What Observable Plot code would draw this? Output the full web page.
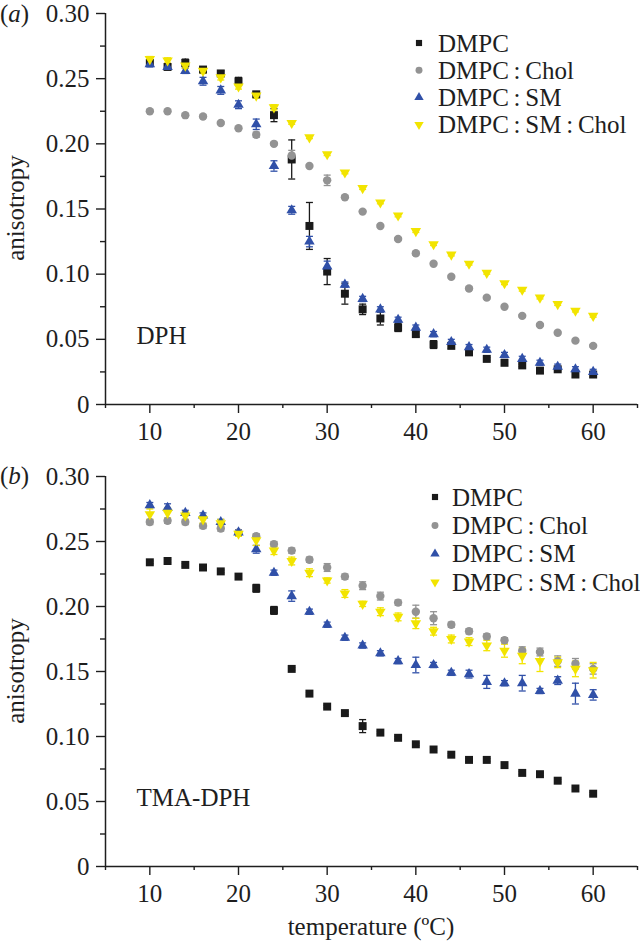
<!DOCTYPE html>
<html>
<head>
<meta charset="utf-8">
<script src="https://cdn.jsdelivr.net/npm/d3@7"></script>
<script src="https://cdn.jsdelivr.net/npm/@observablehq/plot@0.6"></script>
<style>
  html, body { margin: 0; padding: 0; background: #fff; }
  #wrap { position: relative; width: 640px; height: 942px; overflow: hidden; font-family: "Liberation Serif", "Times New Roman", serif; }
  #wrap > svg { position: absolute; left: 0; }
  #overlay { pointer-events: none; }
</style>
</head>
<body>
<div id="wrap"></div>
<script>
// ---------- data ----------
const temps = [10,12,14,16,18,20,22,24,26,28,30,32,34,36,38,40,42,44,46,48,50,52,54,56,58,60];
const seriesNames = ["DMPC", "DMPC : Chol", "DMPC : SM", "DMPC : SM : Chol"];
const panelNames = ["DPH", "TMA-DPH"];
const panelLetters = ["a", "b"];
const yTicks = [0, 0.05, 0.10, 0.15, 0.20, 0.25, 0.30];
const yMinorTicks = [0.025, 0.075, 0.125, 0.175, 0.225, 0.275];
const xTicks = [10, 20, 30, 40, 50, 60];
const xMinorTicks = [5, 15, 25, 35, 45, 55, 65];

// (a) DPH
const dphDMPC        = [0.262,0.259,0.262,0.257,0.254,0.248,0.238,0.222,0.188,0.137,0.102,0.085,0.073,0.066,0.059,0.054,0.046,0.045,0.040,0.035,0.032,0.030,0.026,0.027,0.023,0.023];
const dphDMPCErr     = [0.002,0.002,0.003,0.002,0.002,0.003,0.002,0.005,0.015,0.018,0.010,0.008,0.004,0.005,0.003,0.002,0.003,0.002,0.002,0.001,0.002,0.001,0.002,0.001,0.002,0.002];
const dphChol        = [0.225,0.225,0.222,0.221,0.216,0.212,0.207,0.200,0.191,0.183,0.172,0.159,0.148,0.137,0.127,0.116,0.108,0.098,0.089,0.082,0.075,0.068,0.061,0.055,0.049,0.045];
const dphCholErr     = [0.001,0.001,0.001,0.001,0.001,0.001,0.002,0.001,0.004,0.001,0.004,0.001,0.001,0.001,0.001,0.001,0.001,0.001,0.001,0.001,0.001,0.001,0.001,0.001,0.001,0.001];
const dphSM          = [0.261,0.259,0.256,0.248,0.241,0.230,0.215,0.183,0.149,0.125,0.106,0.092,0.081,0.073,0.065,0.059,0.054,0.048,0.044,0.042,0.038,0.035,0.032,0.029,0.027,0.025];
const dphSMErr       = [0.002,0.002,0.002,0.003,0.003,0.003,0.004,0.004,0.003,0.004,0.004,0.002,0.002,0.002,0.002,0.002,0.002,0.002,0.002,0.002,0.002,0.002,0.002,0.002,0.002,0.002];
const dphSMChol      = [0.265,0.264,0.260,0.256,0.251,0.244,0.237,0.228,0.216,0.205,0.192,0.178,0.166,0.155,0.145,0.133,0.123,0.115,0.108,0.101,0.093,0.088,0.082,0.077,0.072,0.068];
const dphSMCholErr   = [0.002,0.002,0.002,0.002,0.002,0.002,0.002,0.002,0.001,0.001,0.001,0.001,0.001,0.001,0.001,0.001,0.001,0.001,0.001,0.001,0.001,0.001,0.001,0.001,0.001,0.001];

// (b) TMA-DPH
const tmaDMPC        = [0.234,0.235,0.232,0.230,0.227,0.223,0.214,0.197,0.152,0.133,0.123,0.118,0.108,0.103,0.099,0.094,0.090,0.086,0.082,0.082,0.078,0.072,0.071,0.066,0.060,0.056];
const tmaDMPCErr     = [0.001,0.001,0.001,0.001,0.001,0.001,0.003,0.003,0.001,0.001,0.001,0.001,0.005,0.001,0.001,0.001,0.001,0.001,0.001,0.001,0.001,0.001,0.001,0.001,0.001,0.001];
const tmaChol        = [0.265,0.266,0.265,0.262,0.260,0.257,0.254,0.248,0.243,0.236,0.230,0.223,0.216,0.208,0.203,0.196,0.191,0.186,0.181,0.177,0.174,0.166,0.165,0.158,0.156,0.152];
const tmaCholErr     = [0.002,0.002,0.002,0.002,0.002,0.002,0.002,0.002,0.002,0.002,0.003,0.002,0.003,0.003,0.002,0.005,0.005,0.002,0.002,0.002,0.002,0.003,0.003,0.004,0.004,0.004];
const tmaSM          = [0.278,0.276,0.272,0.270,0.265,0.257,0.244,0.226,0.208,0.196,0.186,0.176,0.170,0.164,0.158,0.155,0.155,0.149,0.148,0.142,0.141,0.141,0.135,0.143,0.133,0.132];
const tmaSMErr       = [0.002,0.003,0.002,0.002,0.002,0.002,0.003,0.002,0.004,0.002,0.002,0.002,0.002,0.002,0.002,0.006,0.002,0.002,0.003,0.005,0.002,0.006,0.002,0.003,0.008,0.004];
const tmaSMChol      = [0.271,0.272,0.270,0.267,0.264,0.256,0.251,0.243,0.235,0.226,0.220,0.210,0.202,0.196,0.192,0.187,0.181,0.175,0.173,0.170,0.166,0.162,0.158,0.157,0.152,0.151];
const tmaSMCholErr   = [0.004,0.004,0.003,0.003,0.003,0.002,0.004,0.003,0.003,0.003,0.002,0.003,0.002,0.003,0.003,0.004,0.003,0.003,0.003,0.004,0.005,0.006,0.008,0.004,0.006,0.006];

// ---------- styling ----------
const FONT = '"Liberation Serif", "Times New Roman", serif';
const INK = "#1e1e1e";
const colors = ["#1a1a1a", "#939393", "#3050a8", "#f2e400"];

const downTriangle = {
  draw(context, size) {
    const y = Math.sqrt(size / (Math.sqrt(3) * 3));
    context.moveTo(0, 2 * y);
    context.lineTo(-Math.sqrt(3) * y, -y);
    context.lineTo(Math.sqrt(3) * y, -y);
    context.closePath();
  }
};
const capLine = {
  draw(context, size) {
    const w = Math.sqrt(size / Math.PI);
    context.moveTo(-w, 0);
    context.lineTo(w, 0);
  }
};
const symbols = ["square", "circle", "triangle", downTriangle];
const radii = [4.5, 4.2, 3.9, 3.9];
const d3Symbols = [d3.symbolSquare, d3.symbolCircle, d3.symbolTriangle, downTriangle];

function rows(values, errs) {
  return temps.map((t, i) => ({t, v: values[i], e: errs[i]}));
}
const panels = [
  [rows(dphDMPC, dphDMPCErr), rows(dphChol, dphCholErr), rows(dphSM, dphSMErr), rows(dphSMChol, dphSMCholErr)],
  [rows(tmaDMPC, tmaDMPCErr), rows(tmaChol, tmaCholErr), rows(tmaSM, tmaSMErr), rows(tmaSMChol, tmaSMCholErr)]
];

function makePanel(seriesData, name, height, marginBottom) {
  const marks = [
    Plot.axisY(yTicks, {tickSize: 9, tickPadding: 7, tickFormat: d => d === 0 ? "0" : d.toFixed(2), label: null, stroke: INK, fill: INK, strokeWidth: 1.4, fontSize: 25}),
    Plot.axisY(yMinorTicks, {tickSize: 5, tickFormat: () => "", label: null, stroke: INK, strokeWidth: 1.4}),
    Plot.axisX(xTicks, {tickSize: 9, tickPadding: 9, label: null, stroke: INK, fill: INK, strokeWidth: 1.4, fontSize: 25}),
    Plot.axisX(xMinorTicks, {tickSize: 4, tickFormat: () => "", label: null, stroke: INK, strokeWidth: 1.4}),
    Plot.ruleX([5], {stroke: INK, strokeWidth: 1.5}),
    Plot.ruleY([0], {stroke: INK, strokeWidth: 1.5})
  ];
  seriesData.forEach((data, k) => {
    marks.push(
      Plot.ruleX(data, {x: "t", y1: d => d.v - d.e, y2: d => d.v + d.e, stroke: colors[k], strokeWidth: 1.3}),
      Plot.dot(data, {x: "t", y: d => d.v + d.e, symbol: capLine, r: 3.5, stroke: colors[k], fill: "none", strokeWidth: 1.3}),
      Plot.dot(data, {x: "t", y: d => d.v - d.e, symbol: capLine, r: 3.5, stroke: colors[k], fill: "none", strokeWidth: 1.3})
    );
  });
  seriesData.forEach((data, k) => {
    marks.push(Plot.dot(data, {x: "t", y: "v", symbol: symbols[k], r: radii[k], fill: colors[k], stroke: "none"}));
  });
  marks.push(Plot.text([name], {frameAnchor: "bottom-left", dx: 31, dy: -61, textAnchor: "start", lineAnchor: "bottom", fontSize: 25, fill: INK}));
  return Plot.plot({
    width: 640,
    height,
    marginLeft: 105,
    marginRight: 3,
    marginTop: 13,
    marginBottom,
    x: {domain: [5, 65]},
    y: {domain: [0, 0.30]},
    style: {fontFamily: FONT, fontSize: "25px", color: INK, background: "transparent", overflow: "visible"},
    marks
  });
}

const wrap = document.getElementById("wrap");
const pa = makePanel(panels[0], panelNames[0], 463, 59);
pa.style.top = "0px";
wrap.appendChild(pa);
const pb = makePanel(panels[1], panelNames[1], 479, 76);
pb.style.top = "463px";
wrap.appendChild(pb);

// ---------- overlay text: panel letters, axis titles, legends ----------
const svg = d3.select(wrap).append("svg")
  .attr("id", "overlay")
  .attr("width", 640).attr("height", 942)
  .style("top", "0px")
  .style("font-family", FONT)
  .style("font-size", "25px")
  .attr("fill", INK);

[[22, 0], [484, 1]].forEach(([y, i]) => {
  const t = svg.append("text").attr("x", 0).attr("y", y);
  t.append("tspan").text("(");
  t.append("tspan").attr("font-style", "italic").text(panelLetters[i]);
  t.append("tspan").text(")");
});

[208, 671].forEach(cy => {
  svg.append("text")
    .attr("transform", `translate(24,${cy}) rotate(-90)`)
    .attr("text-anchor", "middle")
    .text("anisotropy");
});

svg.append("text")
  .attr("x", 371).attr("y", 935)
  .attr("text-anchor", "middle")
  .text("temperature (ºC)");

function legend(markerX, textX, firstY, step) {
  seriesNames.forEach((name, k) => {
    const cy = firstY + k * step;
    svg.append("path")
      .attr("transform", `translate(${markerX},${cy})`)
      .attr("d", d3.symbol(d3Symbols[k], 38)())
      .attr("fill", colors[k]);
    svg.append("text")
      .attr("x", textX).attr("y", cy + 8.5)
      .style("word-spacing", "-1.5px")
      .text(name);
  });
}
legend(419, 438, 43, 27.2);
legend(435, 452, 497, 28.4);
</script>
</body>
</html>
